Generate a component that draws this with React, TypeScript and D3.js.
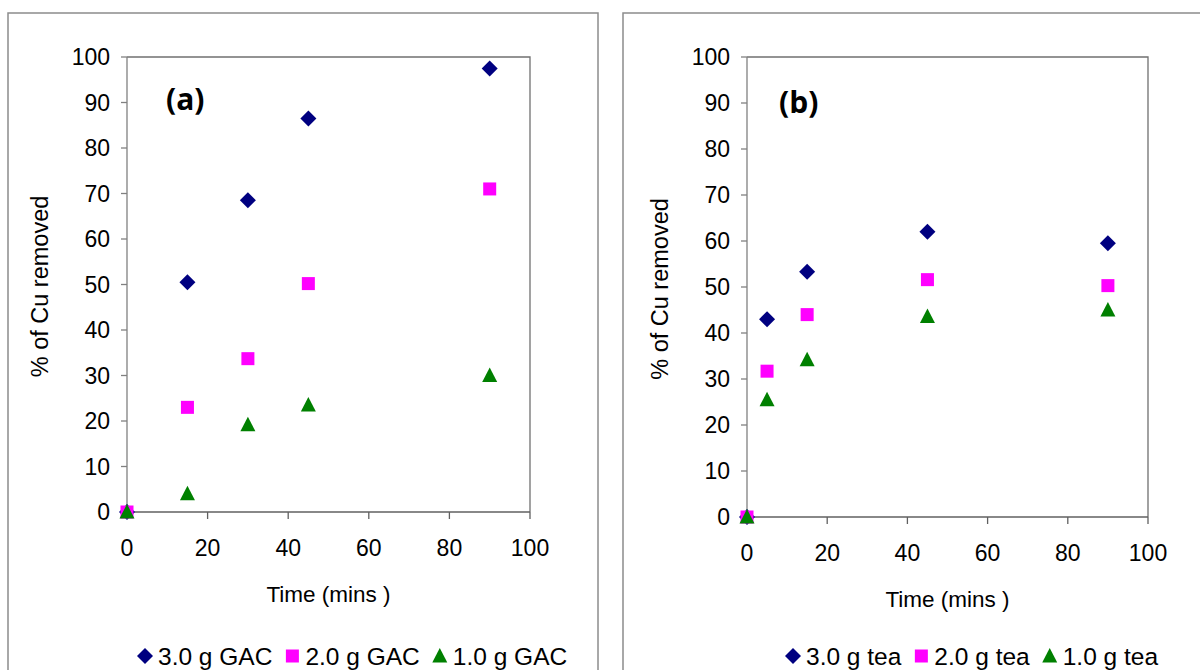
import * as d3 from 'd3'
import { useEffect, useRef } from 'react'

// time (mins) and % of Cu removed
const timesA = [0, 15, 30, 45, 90]
const gac3 = [0, 50.5, 68.5, 86.5, 97.5]
const gac2 = [0, 23, 33.7, 50.2, 71]
const gac1 = [0, 4, 19.2, 23.5, 30]

const timesB = [0, 5, 15, 45, 90]
const tea3 = [0, 43, 53.3, 62, 59.5]
const tea2 = [0, 31.7, 44, 51.6, 50.3]
const tea1 = [0, 25.5, 34.2, 43.6, 45]

const legendA = ['3.0 g GAC', '2.0 g GAC', '1.0 g GAC']
const legendB = ['3.0 g tea', '2.0 g tea', '1.0 g tea']

const xTicks = [0, 20, 40, 60, 80, 100]
const yTicks = [0, 10, 20, 30, 40, 50, 60, 70, 80, 90, 100]

const colors = ['#000080', '#ff00ff', '#008000']
const FONT = '"Liberation Sans", Arial, sans-serif'

function marker(g: any, kind: number, cx: number, cy: number) {
	if (kind === 0) {
		g.append('path')
			.attr('d', `M${cx},${cy - 8}L${cx + 8},${cy}L${cx},${cy + 8}L${cx - 8},${cy}Z`)
			.attr('fill', colors[0])
	} else if (kind === 1) {
		g.append('rect')
			.attr('x', cx - 6.5)
			.attr('y', cy - 6.5)
			.attr('width', 13)
			.attr('height', 13)
			.attr('fill', colors[1])
	} else {
		g.append('path')
			.attr('d', `M${cx},${cy - 8}L${cx + 7.5},${cy + 6.5}L${cx - 7.5},${cy + 6.5}Z`)
			.attr('fill', colors[2])
	}
}

function drawPanel(svg: any, opt: any) {
	const { box, plot, times, series, label, labelPos, legend, legendX } = opt
	// outer chart border
	svg.append('rect')
		.attr('x', box[0])
		.attr('y', box[1])
		.attr('width', box[2])
		.attr('height', box[3])
		.attr('fill', 'white')
		.attr('stroke', '#8c8c8c')
		.attr('stroke-width', 1.5)

	const x = d3.scaleLinear().domain([0, 100]).range([plot.left, plot.right])
	const y = d3.scaleLinear().domain([0, 100]).range([plot.bottom, plot.top])
	const g = svg.append('g')

	// plot area border (top, right)
	g.append('path')
		.attr('d', `M${x(0)},${y(100)}H${x(100)}V${y(0)}`)
		.attr('fill', 'none')
		.attr('stroke', '#707070')
		.attr('stroke-width', 1.3)
	// axes
	g.append('line')
		.attr('x1', x(0)).attr('x2', x(100))
		.attr('y1', y(0)).attr('y2', y(0))
		.attr('stroke', '#606060').attr('stroke-width', 1.3)
	g.append('line')
		.attr('x1', x(0)).attr('x2', x(0))
		.attr('y1', y(0)).attr('y2', y(100))
		.attr('stroke', '#808080').attr('stroke-width', 1.3)

	yTicks.forEach((t) => {
		g.append('line')
			.attr('x1', x(0) - 6).attr('x2', x(0))
			.attr('y1', y(t)).attr('y2', y(t))
			.attr('stroke', '#808080').attr('stroke-width', 1.3)
		g.append('text')
			.attr('x', x(0) - 17)
			.attr('y', y(t))
			.attr('dy', '0.36em')
			.attr('text-anchor', 'end')
			.style('font-family', FONT)
			.style('font-size', '23px')
			.text(t)
	})
	xTicks.forEach((t) => {
		g.append('line')
			.attr('x1', x(t)).attr('x2', x(t))
			.attr('y1', y(0)).attr('y2', y(0) + 7)
			.attr('stroke', '#606060').attr('stroke-width', 1.3)
		g.append('text')
			.attr('x', x(t))
			.attr('y', y(0) + 36)
			.attr('dy', '0.36em')
			.attr('text-anchor', 'middle')
			.style('font-family', FONT)
			.style('font-size', '23px')
			.text(t)
	})

	g.append('text')
		.attr('x', (x(0) + x(100)) / 2)
		.attr('y', y(0) + 82)
		.attr('dy', '0.36em')
		.attr('text-anchor', 'middle')
		.style('font-family', FONT)
		.style('font-size', '22.5px')
		.text('Time (mins )')

	g.append('text')
		.attr('transform', `translate(${x(0) - 87},${(y(0) + y(100)) / 2 + 2}) rotate(-90)`)
		.attr('dy', '0.36em')
		.attr('text-anchor', 'middle')
		.style('font-family', FONT)
		.style('font-size', '23.5px')
		.text('% of Cu removed')

	g.append('text')
		.attr('x', labelPos[0])
		.attr('y', labelPos[1])
		.attr('dy', '0.36em')
		.style('font-family', '"Open Sans", sans-serif')
		.style('font-weight', 'bold')
		.style('font-size', '30px')
		.text(label)

	series.forEach((vals: number[], k: number) => {
		vals.forEach((v, i) => marker(g, k, x(times[i]), y(v)))
	})

	// legend
	let lx = legendX
	const ly = 656
	legend.forEach((name: string, k: number) => {
		marker(g, k, lx + 8, ly)
		const t = g.append('text')
			.attr('x', lx + 21)
			.attr('y', ly)
			.attr('dy', '0.36em')
			.style('font-family', FONT)
			.style('font-size', '24.5px')
			.text(name)
		const w = t.node().getComputedTextLength()
		lx += 21 + w + 12
	})
}

export default function App() {
	const svgRef = useRef<SVGSVGElement>(null)

	useEffect(() => {
		const svg = d3.select(svgRef.current)
		svg.selectAll('*').remove()
		drawPanel(svg, {
			box: [8, 13, 590, 700],
			plot: { left: 127, right: 530, top: 57, bottom: 512 },
			times: timesA,
			series: [gac3, gac2, gac1],
			label: '(a)',
			labelPos: [166, 99],
			legend: legendA,
			legendX: 137,
		})
		drawPanel(svg, {
			box: [623, 13, 620, 700],
			plot: { left: 747, right: 1148, top: 57, bottom: 517 },
			times: timesB,
			series: [tea3, tea2, tea1],
			label: '(b)',
			labelPos: [779, 102],
			legend: legendB,
			legendX: 785,
		})
	}, [])

	return (
		<svg
			ref={svgRef}
			width={1200}
			height={670}
			style={{ position: 'absolute', left: 0, top: 0, background: 'white' }}
		/>
	)
}
